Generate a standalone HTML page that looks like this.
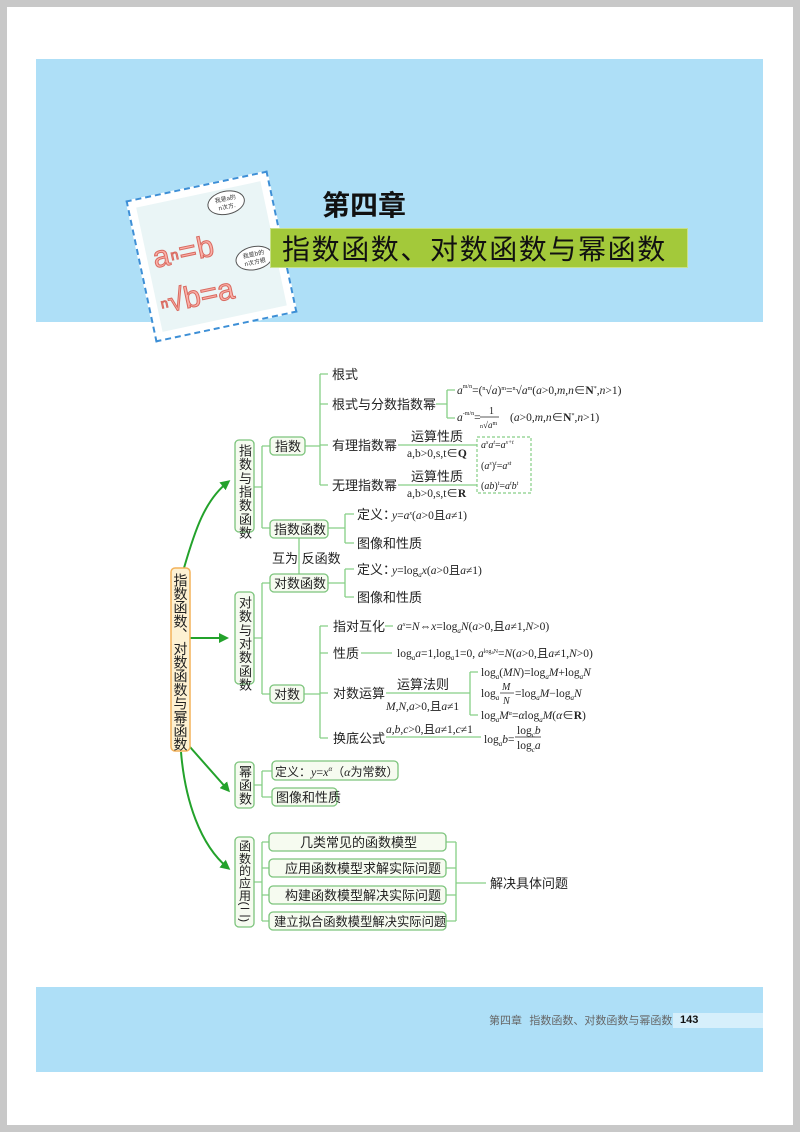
<!DOCTYPE html>
<html><head><meta charset="utf-8"><style>
html,body{margin:0;padding:0}
body{width:800px;height:1132px;position:relative;background:#fff;overflow:hidden;font-family:"Liberation Sans","Noto Sans CJK SC",sans-serif}
.frame{position:absolute;left:0;top:0;width:786px;height:1118px;border:7px solid #c8c8c8}
.band{position:absolute;background:#aedff7}
</style></head><body>
<div class="frame"></div>
<div class="band" style="left:36px;top:59px;width:727px;height:263px"></div>
<div class="band" style="left:36px;top:987px;width:727px;height:85px"></div>
<div style="position:absolute;left:139px;top:184px;width:145px;height:145px;transform:rotate(-12deg);background:#fff;border:2px dashed #3d8fd6;box-sizing:border-box;padding:7px;overflow:hidden">
 <div style="width:100%;height:100%;background:#eaf5f6;position:relative;font-family:'Liberation Sans',sans-serif;overflow:hidden">
  <div style="position:absolute;left:6px;top:36px;font-size:30px;letter-spacing:1px;-webkit-text-stroke:1px #d86a60;color:#fbb0a8;line-height:36px">a<span style="font-size:14px;vertical-align:top">n</span>=b</div>
  <div style="position:absolute;left:4px;top:82px;font-size:30px;-webkit-text-stroke:1px #d86a60;color:#fbb0a8;line-height:36px"><span style="font-size:13px;vertical-align:top">n</span>√b=a</div>
  <div style="position:absolute;left:70px;top:2px;width:38px;height:24px;border:1px solid #555;border-radius:50%;background:#fff;font-size:6px;color:#333;text-align:center;line-height:8px;padding-top:3px;box-sizing:border-box;font-family:'Noto Sans CJK SC',sans-serif">我是a的<br>n次方.</div>
  <div style="position:absolute;left:86px;top:62px;width:38px;height:24px;border:1px solid #555;border-radius:50%;background:#fff;font-size:6px;color:#333;text-align:center;line-height:8px;padding-top:3px;box-sizing:border-box;font-family:'Noto Sans CJK SC',sans-serif">我是b的<br>n次方根</div>
 </div>
</div>
<div style="position:absolute;left:322px;top:186px;font-size:28px;font-weight:bold;color:#111;font-family:'Noto Sans CJK SC',sans-serif;line-height:36px">第四章</div>
<div style="position:absolute;left:270px;top:228px;width:418px;height:40px;background:#a3c93a;border:1px solid #c8e08a;box-sizing:border-box"></div>
<div style="position:absolute;left:282px;top:229px;font-size:28px;color:#111;font-family:'Noto Sans CJK SC',sans-serif;line-height:38px;letter-spacing:1.6px">指数函数、对数函数与幂函数</div>

<div style="position:absolute;left:673px;top:1013px;width:90px;height:15px;background:#d6effb"></div>
<div style="position:absolute;left:489px;top:1012px;font-size:11px;color:#666;font-family:'Noto Sans CJK SC',sans-serif;line-height:16px">第四章&nbsp;&nbsp;&nbsp;指数函数、对数函数与幂函数</div>
<div style="position:absolute;left:680px;top:1012px;font-size:11px;font-weight:bold;color:#111;line-height:16px">143</div>

<svg width="800" height="1132" style="position:absolute;left:0;top:0" xmlns="http://www.w3.org/2000/svg">
<defs><marker id="ar" markerWidth="10" markerHeight="10" refX="7" refY="5" orient="auto" markerUnits="userSpaceOnUse"><path d="M0,0 L10,5 L0,10 z" fill="#23a22b"/></marker></defs>
<g fill="none" stroke="#23a22b" stroke-width="2">
<path d="M184,568 C195,530 205,500 228,482" marker-end="url(#ar)"/>
<path d="M190,638 L226,638" marker-end="url(#ar)"/>
<path d="M190,747 L228,790" marker-end="url(#ar)"/>
<path d="M181,752 C185,800 200,845 228,868" marker-end="url(#ar)"/>
</g>
<g fill="none" stroke="#86cf86" stroke-width="1.3">
<path d="M254,487 H262 M262,446 V528 M262,446 H270 M262,528 H270"/>
<path d="M254,638 H262 M262,583 V694 M262,583 H270 M262,694 H270"/>
<path d="M254,785 H262 M262,771 V797 M262,771 H272 M262,797 H272"/>
<path d="M254,882 H262 M262,842 V921 M262,842 H269 M262,868 H269 M262,895 H269 M262,921 H269"/>
<path d="M305,446 H320 M320,374 V485 M320,374 H328 M320,404 H328 M320,445 H328 M320,485 H328"/>
<path d="M436,404 H447 M447,390 V418 M447,390 H455 M447,418 H455"/>
<path d="M398,445 H477 M398,485 H477"/>
<path d="M328,528 H345 M345,514 V543 M345,514 H354 M345,543 H354"/>
<path d="M299,537 V574"/>
<path d="M328,583 H345 M345,569 V597 M345,569 H354 M345,597 H354"/>
<path d="M304,694 H320 M320,626 V738 M320,626 H328 M320,653 H328 M320,693 H328 M320,738 H328"/>
<path d="M385,626 H393 M361,653 H392 M386,693 H470 M470,672 V715 M470,672 H478 M470,715 H478 M386,737 H481"/>
<path d="M446,842 H456 M446,868 H456 M446,895 H456 M446,921 H456 M456,842 V921 M456,883 H486"/>
</g>
<rect x="477" y="437" width="54" height="56" fill="none" stroke="#86cf86" stroke-width="1.2" stroke-dasharray="3,2"/>
<g fill="#f6fbf0" stroke="#7cc47c" stroke-width="1.3">
<rect x="235" y="440" width="19" height="92" rx="4"/>
<rect x="235" y="592" width="19" height="92" rx="4"/>
<rect x="235" y="762" width="19" height="46" rx="4"/>
<rect x="235" y="837" width="19" height="90" rx="4"/>
<rect x="270" y="437" width="35" height="18" rx="4"/>
<rect x="270" y="520" width="58" height="18" rx="4"/>
<rect x="270" y="574" width="58" height="18" rx="4"/>
<rect x="270" y="685" width="34" height="18" rx="4"/>
<rect x="272" y="761" width="126" height="19" rx="4"/>
<rect x="272" y="788" width="65" height="18" rx="4"/>
<rect x="269" y="833" width="177" height="18" rx="4"/>
<rect x="269" y="859" width="177" height="18" rx="4"/>
<rect x="269" y="886" width="177" height="18" rx="4"/>
<rect x="269" y="912" width="177" height="18" rx="4"/>
</g>
<rect x="171" y="568" width="19" height="183" rx="4" fill="#fdf1d3" stroke="#f3b25a" stroke-width="1.5"/>
<g font-family="'Liberation Sans','Noto Sans CJK SC',sans-serif" fill="#222">
<text x="180.5" y="573" font-size="14" style="writing-mode:vertical-rl" letter-spacing="-0.3">指数函数、对数函数与幂函数</text>
<text x="244.5" y="444" font-size="13" style="writing-mode:vertical-rl" letter-spacing="0.7">指数与指数函数</text>
<text x="244.5" y="596" font-size="13" style="writing-mode:vertical-rl" letter-spacing="0.7">对数与对数函数</text>
<text x="244.5" y="765" font-size="13" style="writing-mode:vertical-rl" letter-spacing="0.5">幂函数</text>
<text x="244.5" y="840" font-size="12" style="writing-mode:vertical-rl" letter-spacing="0.3">函数的应用(二)</text>
<g font-size="13">
<text x="275" y="451">指数</text>
<text x="274" y="534">指数函数</text>
<text x="274" y="588">对数函数</text>
<text x="274" y="699">对数</text>
<text x="332" y="379">根式</text>
<text x="332" y="409">根式与分数指数幂</text>
<text x="332" y="450">有理指数幂</text>
<text x="332" y="490">无理指数幂</text>
<text x="357" y="519">定义：</text>
<text x="357" y="548">图像和性质</text>
<text x="272" y="563">互为 反函数</text>
<text x="357" y="574">定义：</text>
<text x="357" y="602">图像和性质</text>
<text x="333" y="631">指对互化</text>
<text x="333" y="658">性质</text>
<text x="333" y="698">对数运算</text>
<text x="333" y="743">换底公式</text>
<text x="411" y="441">运算性质</text>
<text x="411" y="481">运算性质</text>
<text x="397" y="689">运算法则</text>
<text x="275" y="776" font-size="12">定义：<tspan font-family="'Liberation Serif',serif" font-style="italic">y</tspan><tspan font-family="'Liberation Serif',serif">=</tspan><tspan font-family="'Liberation Serif',serif" font-style="italic">x<tspan font-size="7" dy="-5">α</tspan></tspan><tspan dy="5">（</tspan><tspan font-family="'Liberation Serif',serif" font-style="italic">α</tspan>为常数）</text>
<text x="276" y="802">图像和性质</text>
<text x="300" y="847">几类常见的函数模型</text>
<text x="285" y="873">应用函数模型求解实际问题</text>
<text x="285" y="900">构建函数模型解决实际问题</text>
<text x="274" y="926" font-size="12.3">建立拟合函数模型解决实际问题</text>
<text x="490" y="888">解决具体问题</text>
</g>
<g font-family="'Liberation Serif','Noto Sans CJK SC',serif" font-size="11.5" fill="#222">
<text x="407" y="457">a,b&gt;0,s,t∈<tspan font-weight="bold">Q</tspan></text>
<text x="407" y="497">a,b&gt;0,s,t∈<tspan font-weight="bold">R</tspan></text>
<text x="457" y="394"><tspan font-style="italic">a</tspan><tspan font-size="6" dy="-6">m/n</tspan><tspan dy="6">=(</tspan><tspan font-size="6" dy="-4">n</tspan><tspan dy="4">√</tspan><tspan font-style="italic">a</tspan>)<tspan font-size="6" dy="-4">m</tspan><tspan dy="4">=</tspan><tspan font-size="6" dy="-4">n</tspan><tspan dy="4">√</tspan><tspan font-style="italic">a</tspan><tspan font-size="6" dy="-4">m</tspan><tspan dy="4">(</tspan><tspan font-style="italic">a</tspan>&gt;0,<tspan font-style="italic">m,n</tspan>∈<tspan font-weight="bold">N</tspan><tspan font-size="6" dy="-4">*</tspan><tspan dy="4">,</tspan><tspan font-style="italic">n</tspan>&gt;1)</text>
<text x="457" y="421"><tspan font-style="italic">a</tspan><tspan font-size="6" dy="-6">-m/n</tspan><tspan dy="6">=</tspan></text>
<text x="489" y="414" font-size="10">1</text>
<line x1="480" y1="417" x2="499" y2="417" stroke="#222" stroke-width="0.7"/>
<text x="480" y="428" font-size="9"><tspan font-size="6">n</tspan>√<tspan font-style="italic">a</tspan><tspan font-size="6" dy="-3">m</tspan></text>
<text x="510" y="421">(<tspan font-style="italic">a</tspan>&gt;0,<tspan font-style="italic">m,n</tspan>∈<tspan font-weight="bold">N</tspan><tspan font-size="6" dy="-4">*</tspan><tspan dy="4">,</tspan><tspan font-style="italic">n</tspan>&gt;1)</text>
<g font-size="10" font-style="italic">
<text x="481" y="448">a<tspan font-size="6" dy="-4">s</tspan><tspan dy="4">a</tspan><tspan font-size="6" dy="-4">t</tspan><tspan dy="4" font-style="normal">=</tspan>a<tspan font-size="6" dy="-4">s+t</tspan></text>
<text x="481" y="469"><tspan font-style="normal">(</tspan>a<tspan font-size="6" dy="-4">s</tspan><tspan dy="4" font-style="normal">)</tspan><tspan font-size="6" dy="-4">t</tspan><tspan dy="4" font-style="normal">=</tspan>a<tspan font-size="6" dy="-4">st</tspan></text>
<text x="481" y="489"><tspan font-style="normal">(</tspan>ab<tspan font-style="normal">)</tspan><tspan font-size="6" dy="-4">t</tspan><tspan dy="4" font-style="normal">=</tspan>a<tspan font-size="6" dy="-4">t</tspan><tspan dy="4">b</tspan><tspan font-size="6" dy="-4">t</tspan></text>
</g>
<text x="392" y="519"><tspan font-style="italic">y</tspan>=<tspan font-style="italic">a<tspan font-size="6" dy="-4">x</tspan></tspan><tspan dy="4">(</tspan><tspan font-style="italic">a</tspan>&gt;0且<tspan font-style="italic">a</tspan>≠1)</text>
<text x="392" y="574"><tspan font-style="italic">y</tspan>=log<tspan font-size="7" dy="3" font-style="italic">a</tspan><tspan dy="-3" font-style="italic">x</tspan>(<tspan font-style="italic">a</tspan>&gt;0且<tspan font-style="italic">a</tspan>≠1)</text>
<text x="397" y="630"><tspan font-style="italic">a<tspan font-size="6" dy="-4">x</tspan></tspan><tspan dy="4">=</tspan><tspan font-style="italic">N</tspan>⇔<tspan font-style="italic">x</tspan>=log<tspan font-size="7" dy="3" font-style="italic">a</tspan><tspan dy="-3" font-style="italic">N</tspan>(<tspan font-style="italic">a</tspan>&gt;0,且<tspan font-style="italic">a</tspan>≠1,<tspan font-style="italic">N</tspan>&gt;0)</text>
<text x="397" y="657">log<tspan font-size="7" dy="3" font-style="italic">a</tspan><tspan dy="-3" font-style="italic">a</tspan>=1,log<tspan font-size="7" dy="3" font-style="italic">a</tspan><tspan dy="-3">1=0, </tspan><tspan font-style="italic">a</tspan><tspan font-size="6" dy="-4">log</tspan><tspan font-size="5" dy="1">a</tspan><tspan font-size="6" dy="-1">N</tspan><tspan dy="4">=</tspan><tspan font-style="italic">N</tspan>(<tspan font-style="italic">a</tspan>&gt;0,且<tspan font-style="italic">a</tspan>≠1,<tspan font-style="italic">N</tspan>&gt;0)</text>
<text x="386" y="710"><tspan font-style="italic">M,N,a</tspan>&gt;0,且<tspan font-style="italic">a</tspan>≠1</text>
<text x="481" y="676">log<tspan font-size="7" dy="3" font-style="italic">a</tspan><tspan dy="-3">(</tspan><tspan font-style="italic">MN</tspan>)=log<tspan font-size="7" dy="3" font-style="italic">a</tspan><tspan dy="-3" font-style="italic">M</tspan>+log<tspan font-size="7" dy="3" font-style="italic">a</tspan><tspan dy="-3" font-style="italic">N</tspan></text>
<text x="481" y="697">log<tspan font-size="7" dy="3" font-style="italic">a</tspan></text>
<text x="502" y="690" font-style="italic" font-size="10">M</text>
<line x1="500" y1="693" x2="514" y2="693" stroke="#222" stroke-width="0.7"/>
<text x="503" y="704" font-style="italic" font-size="10">N</text>
<text x="515" y="697">=log<tspan font-size="7" dy="3" font-style="italic">a</tspan><tspan dy="-3" font-style="italic">M</tspan>−log<tspan font-size="7" dy="3" font-style="italic">a</tspan><tspan dy="-3" font-style="italic">N</tspan></text>
<text x="481" y="719">log<tspan font-size="7" dy="3" font-style="italic">a</tspan><tspan dy="-3" font-style="italic">M</tspan><tspan font-size="6" dy="-4" font-style="italic">α</tspan><tspan dy="4">=</tspan><tspan font-style="italic">α</tspan>log<tspan font-size="7" dy="3" font-style="italic">a</tspan><tspan dy="-3" font-style="italic">M</tspan>(<tspan font-style="italic">α</tspan>∈<tspan font-weight="bold">R</tspan>)</text>
<text x="386" y="733"><tspan font-style="italic">a,b,c</tspan>&gt;0,且<tspan font-style="italic">a</tspan>≠1,<tspan font-style="italic">c</tspan>≠1</text>
<text x="484" y="743">log<tspan font-size="7" dy="3" font-style="italic">a</tspan><tspan dy="-3" font-style="italic">b</tspan>=</text>
<text x="517" y="734">log<tspan font-size="7" dy="3" font-style="italic">c</tspan><tspan dy="-3" font-style="italic">b</tspan></text>
<line x1="515" y1="737" x2="541" y2="737" stroke="#222" stroke-width="0.7"/>
<text x="517" y="749">log<tspan font-size="7" dy="3" font-style="italic">c</tspan><tspan dy="-3" font-style="italic">a</tspan></text>
</g>
</g>
</svg>
</body></html>
